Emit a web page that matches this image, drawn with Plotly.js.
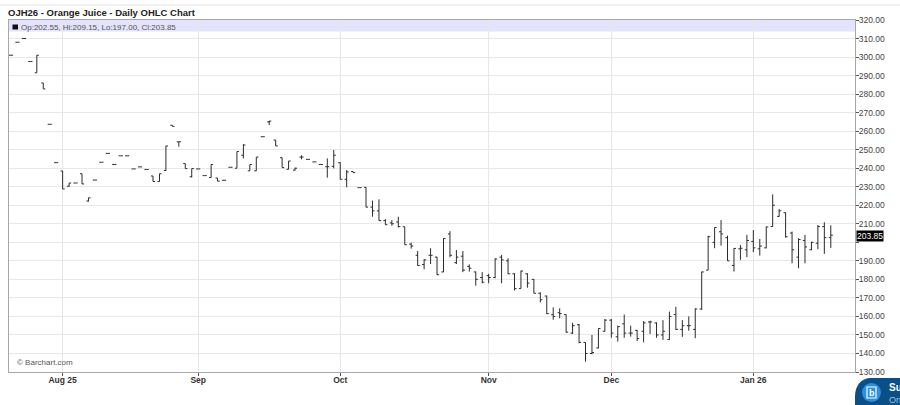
<!DOCTYPE html>
<html><head><meta charset="utf-8">
<script src="https://cdn.plot.ly/plotly-3.0.1.min.js"></script>
<style>html,body{margin:0;padding:0;background:#fff}#c{width:900px;height:405px}</style>
</head><body><div id="c"></div>
<script>
const opens=[301,308,310,297.6,291.5,286,263.7,243,238.5,230.3,232,237,222.3,233.6,243.2,248,242,246.7,246.7,239.6,240.7,239.3,235.8,232.8,238.8,263.2,254.2,242.5,235.4,239.6,236,235,234.7,233.5,240.5,240,247,238.6,238.6,257,265,255.2,245.7,239.4,239,246,244.8,243.4,242,240.8,241,243,234,238.2,229.5,229.7,219,217,211.7,210.5,211,208.4,199,193,188,193,192,184,204.5,189,192.5,187,184,181,182,181,192,190,183,175,183,180,172.5,171,160.9,162,161,151,155.5,146,140,143,152,158,149,156,151,152.5,152,157,156.5,150,147.5,161,153,155,153,164,185,200,205.7,202.5,187.5,196.5,196,200.5,196.5,197,208.5,214,216,205,192,201,196,199.5,208.5,202.55];
const highs=[301,308,310,297.6,301,286,263.7,243,238.5,232,232,237,224,233.6,243.2,248,242,246.7,246.7,239.6,240.7,239.3,235.8,237,252,263.2,254.3,242.5,239.8,239.6,236,242,234.7,233.5,240.5,249,253,242,246,257,265.6,255.2,245.7,243.9,240.3,247,244.8,243.4,242,245.3,249.8,243.2,239,238.2,229.5,229.7,222.5,223.2,212.5,212,213.8,208.4,199.8,195.3,190.9,196.8,192.2,202.2,206,195.8,195.3,188.1,184.2,183.9,183,191.4,193.2,191.4,183.3,184.7,183.3,180.2,173,171.2,164.9,164.4,161,156.6,155.9,146,150,153.6,158.6,158.6,155,161,155,152.7,157.5,157.7,156.8,158,162.6,165.2,158,160,164.4,184.2,203.6,208,212,203.6,196.8,198.5,204,206.6,201.8,208.5,225.9,218,216.2,205.8,202.2,204,200.3,209.3,210.8,209.15];
const lows=[301,308,310,297.6,291.5,282.8,263.7,243,228.8,230,232,231.5,222,233.6,243.2,248,242,246.7,246.7,239.6,240.7,239.3,232.8,232.8,238.6,262.6,251.6,239.8,235,239.6,236,235,233,233.5,240.5,240,245.3,238.6,238.6,257,263.3,252,240.3,239.4,238.7,244.8,244.8,243.4,242,234.9,239.9,234,229.7,237.6,229.5,218.9,213.8,211.7,209.5,209,208,198.7,196.6,187.4,185.4,188.3,182.3,183.9,191.9,188.3,183.9,184.2,176.6,177.9,177.9,180.6,177.9,182.8,174,175.1,175.5,172.5,167.6,161.3,158.2,159,151.2,150.5,145.5,135.6,139.6,142.8,151.8,148.5,146.4,148.5,149.1,146.7,146,150.5,148.5,147.3,147.3,152.7,149,152.3,148.2,163.5,185,196.8,198.2,190,184.2,190.5,192,194.7,192.8,196.8,208.5,213.8,202.5,188.7,186,188.7,195.8,196.3,193.8,197];
const closes=[301,308,310,297.6,301,282.8,263.7,243,228.8,232,232,231.5,224,233.6,243.2,248,242,246.7,246.7,239.6,240.7,239.3,232.8,237,252,262.6,254.3,239.8,239.8,239.6,236,242,233,233.5,240.5,249,252.5,242,246,257,265.4,252,240.3,243.9,240,246,244.8,243.4,242,240.8,247,234,238,237.6,229.5,219,217,211.7,209.5,210,208.5,198.7,198,187.5,190.5,193,182.5,202,193,192,185,186,180,178.5,181,191,190.5,183,175,184.5,178,172.5,169,161.5,160,161.5,151.5,155,146,140,140.5,153.5,158,151,154.5,151,151,148,156.5,157,150,152,160,153,155,155,164,184,203,208,204.5,190,196.7,196.8,201,197,198,208.3,220,217,203,196,201.5,197.5,200,208.5,202.5,203.85];
const tickPositions=[8,29,51,74,93,115];
const tickLabels=['Aug 25','Sep','Oct','Nov','Dec','Jan 26'];
const priceTicks=[130,140,150,160,170,180,190,200,210,220,230,240,250,260,270,280,290,300,310,320];
const priceLabels=['130.00','140.00','150.00','160.00','170.00','180.00','190.00','','210.00','220.00','230.00','240.00','250.00','260.00','270.00','280.00','290.00','300.00','310.00','320.00'];
const titleText='OJH26 - Orange Juice - Daily OHLC Chart';
const infoText='Op:202.55, Hi:209.15, Lo:197.00, Cl:203.85';
const lastPrice=203.85;

const font='"Liberation Sans", Arial, sans-serif';
const L=9,T=20,R=855,B=372;
const px=x=>(x-L)/(R-L), py=y=>(B-y)/(B-T);
const P=(x,y)=>px(x).toFixed(4)+','+py(y).toFixed(4);
const badge='M '+P(900,378)+' L '+P(871,378)+' C '+P(861,378)+' '+P(855,386)+' '+P(855,396)+' L '+P(855,405)+' L '+P(900,405)+' Z';
const paper={xref:'paper',yref:'paper'};
const note=(x,y,text,extra)=>Object.assign({},paper,{x:px(x),y:py(y),text,showarrow:false,xanchor:'left',yanchor:'middle',font:{family:font,size:9,color:'#444'}},extra||{});

Plotly.newPlot('c',[{
  type:'ohlc',x:opens.map((_,i)=>i),open:opens,high:highs,low:lows,close:closes,
  tickwidth:0.32,
  increasing:{line:{color:'#2b2b2b',width:1}},
  decreasing:{line:{color:'#2b2b2b',width:1}},
  hoverinfo:'skip'
}],{
  width:900,height:405,showlegend:false,
  margin:{l:L,r:900-R,t:T,b:405-B,pad:0},
  paper_bgcolor:'#fff',plot_bgcolor:'#fff',
  xaxis:{type:'linear',range:[-0.31,130.75],rangeslider:{visible:false},tickmode:'array',tickvals:tickPositions,ticktext:tickLabels,
    showgrid:true,gridcolor:'#e8e8e8',gridwidth:1,zeroline:false,ticks:'outside',ticklen:3,tickcolor:'#555',ticklabelstandoff:-3,
    showline:true,linecolor:'#a8a8a8',linewidth:1,mirror:true,tickfont:{family:font,size:8.5,color:'#333',weight:'bold'}},
  yaxis:{range:[130,320],side:'right',tickmode:'array',tickvals:priceTicks,ticktext:priceLabels,
    showgrid:true,gridcolor:'#e8e8e8',gridwidth:1,zeroline:false,ticks:'outside',ticklen:3,tickcolor:'#555',ticklabelstandoff:-2,
    showline:true,linecolor:'#a8a8a8',linewidth:1,mirror:true,tickfont:{family:font,size:8.5,color:'#444'}},
  shapes:[
    Object.assign({},paper,{type:'rect',x0:0,x1:1,y0:py(31.5),y1:1,fillcolor:'rgba(215,215,250,0.7)',line:{width:0},layer:'below'}),
    Object.assign({},paper,{type:'rect',x0:px(12.5),x1:px(18),y0:py(29.5),y1:py(24.5),fillcolor:'#111',line:{width:0}}),
    Object.assign({},paper,{type:'line',x0:-0.02,x1:1.07,y0:py(5),y1:py(5),line:{color:'#e4e4e4',width:1}}),
    Object.assign({},paper,{type:'path',path:badge,fillcolor:'#0b4f86',line:{width:0}}),
    Object.assign({},paper,{type:'circle',x0:px(862),x1:px(881),y0:py(402),y1:py(383),fillcolor:'#2a8fe0',line:{width:0}}),
    Object.assign({},paper,{type:'rect',x0:px(867),x1:px(876),y0:py(398),y1:py(387),fillcolor:'rgba(0,0,0,0)',line:{color:'#fff',width:1.2}})
  ],
  annotations:[
    note(6,12,titleText,{font:{family:font,size:9.5,color:'#222',weight:'bold'}}),
    note(19,27,infoText,{font:{family:font,size:8,color:'#555'}}),
    note(15,362,'© Barchart.com',{font:{family:font,size:8,color:'#555'}}),
    note(856,235.5,lastPrice.toFixed(2),{bgcolor:'#000',borderpad:0,font:{family:font,size:8.5,color:'#fff'}}),
    note(871.5,392.5,'b',{xanchor:'center',font:{family:font,size:9,color:'#fff',weight:'bold'}}),
    note(887,387,'Su',{font:{family:font,size:10,color:'#fff',weight:'bold'}}),
    note(887,400,'On',{font:{family:font,size:9,color:'#9fc3de'}})
  ]
},{staticPlot:true,displayModeBar:false});
</script></body></html>
